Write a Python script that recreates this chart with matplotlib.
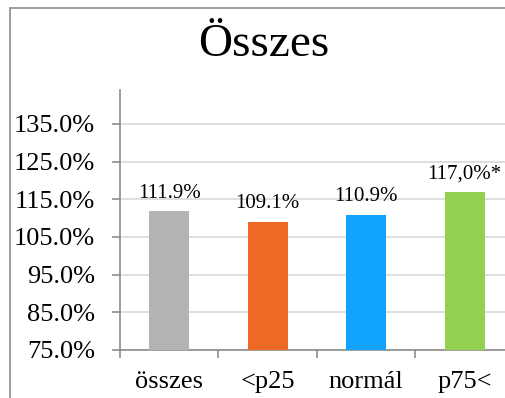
import matplotlib.pyplot as plt
from matplotlib.patches import Rectangle

categories = ['összes', '<p25', 'normál', 'p75<']
values = [111.9, 109.1, 110.9, 117.0]
value_labels = ['111.9%', '109.1%', '110.9%', '117,0%*']
colors = ['#B3B3B3', '#EE6A24', '#11A3FF', '#92D050']
yticks = [75, 85, 95, 105, 115, 125, 135]

plt.rcParams['font.family'] = ['Liberation Serif', 'DejaVu Serif']

fig = plt.figure(figsize=(5.06, 3.98), dpi=100)
W, H = 506, 398

# outer frame of the chart area
fig.patches.append(Rectangle((10 / W, -0.1), 1.2, 1 - 8 / H + 0.1,
                             transform=fig.transFigure, fill=False,
                             edgecolor='#8C8C8C', linewidth=1.2))

ax = fig.add_axes([120 / W, 1 - 350 / H, 394 / W, 260 / H])
x = range(len(categories))
ax.bar(x, values, width=0.41, color=colors, bottom=0, zorder=3)
ax.set_ylim(75, 144)
ax.set_xlim(-0.5, len(categories) - 0.5)

for xi, v, lab in zip(x, values, value_labels):
    ax.annotate(lab, (xi, v), xytext=(0, 6), textcoords='offset points',
                ha='center', va='bottom', fontsize=15)

ax.set_yticks(yticks)
ax.set_yticklabels([f'{t:.1f}%' for t in yticks], fontsize=19)
ax.yaxis.grid(True, color='#D9D9D9', linewidth=1.2, zorder=0)

ax.set_xticks([i - 0.5 for i in range(len(categories) + 1)])
ax.set_xticklabels([])
ax.set_xticks(list(x), minor=True)
ax.set_xticklabels(categories, minor=True, fontsize=19)
ax.tick_params(axis='x', which='minor', length=0, pad=15)
ax.tick_params(axis='x', which='major', length=6, color='#8C8C8C', width=1.2)
ax.tick_params(axis='y', length=6, color='#8C8C8C', width=1.2, pad=12)

for s in ['top', 'right']:
    ax.spines[s].set_visible(False)
for s in ['left', 'bottom']:
    ax.spines[s].set_color('#8C8C8C')
    ax.spines[s].set_linewidth(1.2)

fig.text(264 / W, 1 - 45 / H, 'Összes', ha='center', va='center', fontsize=34)

fig.savefig('out.png', dpi=100)
